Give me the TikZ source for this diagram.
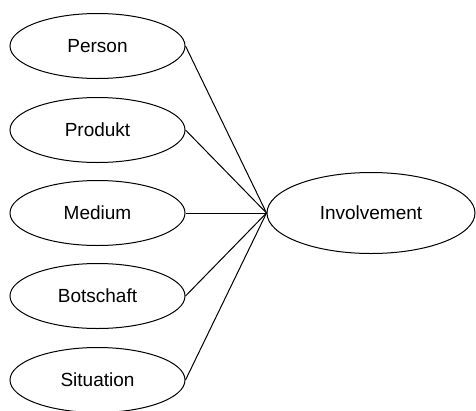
\documentclass[tikz,border=0pt]{standalone}
\usepackage{fontspec}
\setmainfont{Liberation Sans}
\usetikzlibrary{shapes.geometric}
\begin{document}
\begin{tikzpicture}[x=1pt,y=-1pt,
  factor/.style={draw,ellipse,line width=1pt,minimum width=175pt,minimum height=65pt,inner sep=0pt,
    font=\fontsize{19}{22}\selectfont},
  target/.style={factor,minimum width=208pt,minimum height=81pt},
  link/.style={line width=1pt}]
\useasboundingbox (0,0) rectangle (476,410);
\node[factor] (person)    at (97.5,46)  {Person};
\node[factor] (produkt)   at (97.5,130) {Produkt};
\node[factor] (medium)    at (97.5,213) {Medium};
\node[factor] (botschaft) at (97.5,296) {Botschaft};
\node[factor] (situation) at (97.5,380) {Situation};
\node[target] (involvement) at (371,213) {Involvement};
\foreach \n in {person,produkt,medium,botschaft,situation}
  \draw[link] (\n.east) -- (involvement.west);
\end{tikzpicture}
\end{document}
